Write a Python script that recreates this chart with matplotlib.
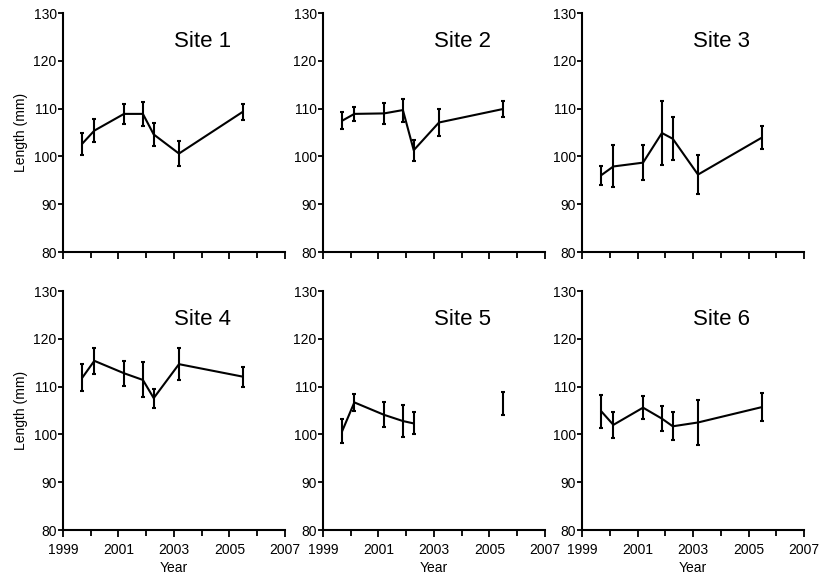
import numpy as np
import matplotlib
matplotlib.use("Agg")
import matplotlib.pyplot as plt
from matplotlib.ticker import FixedLocator, MultipleLocator

plt.rcParams['font.family'] = ['Liberation Sans', 'DejaVu Sans']

# sampling dates (decimal years), same for every site
years = [1999.7, 2000.13, 2001.2, 2001.88, 2002.27, 2003.18, 2005.47]

site_names = ["Site 1", "Site 2", "Site 3", "Site 4", "Site 5", "Site 6"]

# mean length (mm)
site1 = [102.7, 105.4, 108.9, 108.9, 104.6, 100.6, 109.3]
site2 = [107.5, 108.9, 109.0, 109.7, 101.3, 107.1, 109.9]
site3 = [96.1, 97.9, 98.7, 104.9, 103.7, 96.2, 103.9]
site4 = [111.9, 115.4, 112.8, 111.4, 107.6, 114.7, 112.1]
site5 = [100.8, 106.7, 104.1, 102.8, 102.3, np.nan, 106.5]
site6 = [104.8, 102.0, 105.6, 103.3, 101.7, 102.5, 105.7]

# error bars (+/- mm)
err1 = [2.3, 2.4, 2.1, 2.5, 2.4, 2.6, 1.6]
err2 = [1.7, 1.5, 2.2, 2.4, 2.2, 2.9, 1.6]
err3 = [2.0, 4.4, 3.7, 6.7, 4.5, 4.0, 2.4]
err4 = [2.9, 2.7, 2.65, 3.65, 2.0, 3.4, 2.1]
err5 = [2.5, 1.8, 2.6, 3.4, 2.3, np.nan, 2.45]
err6 = [3.5, 2.75, 2.35, 2.65, 2.9, 4.65, 2.9]

major_years = [1999, 2001, 2003, 2005, 2007]
minor_years = [2000, 2002, 2004, 2006]

means = [site1, site2, site3, site4, site5, site6]
errs = [err1, err2, err3, err4, err5, err6]

fig = plt.figure(figsize=(8.21, 5.8), dpi=100)

lefts = [0.0767, 0.3934, 0.7089]
bottoms = [0.5655, 0.0862]
w = 0.2704
h = 0.412

for i in range(6):
    row = i // 3
    col = i % 3
    ax = fig.add_axes([lefts[col], bottoms[row], w, h])

    ax.errorbar(years, means[i], yerr=errs[i], color='black', lw=1.5,
                elinewidth=1.5, capsize=1.5, capthick=1.5, clip_on=False)

    ax.set_xlim(1999, 2007)
    ax.set_ylim(80, 130)
    ax.xaxis.set_major_locator(FixedLocator(major_years))
    ax.xaxis.set_minor_locator(FixedLocator(minor_years))
    ax.yaxis.set_major_locator(MultipleLocator(10))

    for s in ['top', 'right']:
        ax.spines[s].set_visible(False)
    for s in ['left', 'bottom']:
        ax.spines[s].set_linewidth(1.5)

    ax.tick_params(which='both', direction='out', width=1.3, labelsize=10)
    ax.tick_params(axis='x', which='major', length=5, pad=4)
    ax.tick_params(axis='x', which='minor', length=4)
    ax.tick_params(axis='y', length=3.5, pad=1)

    if row == 0:
        ax.tick_params(axis='x', labelbottom=False)
    else:
        ax.set_xlabel("Year", fontsize=10, labelpad=3)

    if col == 0:
        ax.set_ylabel("Length (mm)", fontsize=10, labelpad=4)

    ax.text(0.63, 0.88, site_names[i], transform=ax.transAxes,
            fontsize=16, ha='center', va='center')

fig.savefig("out.png", dpi=100)
